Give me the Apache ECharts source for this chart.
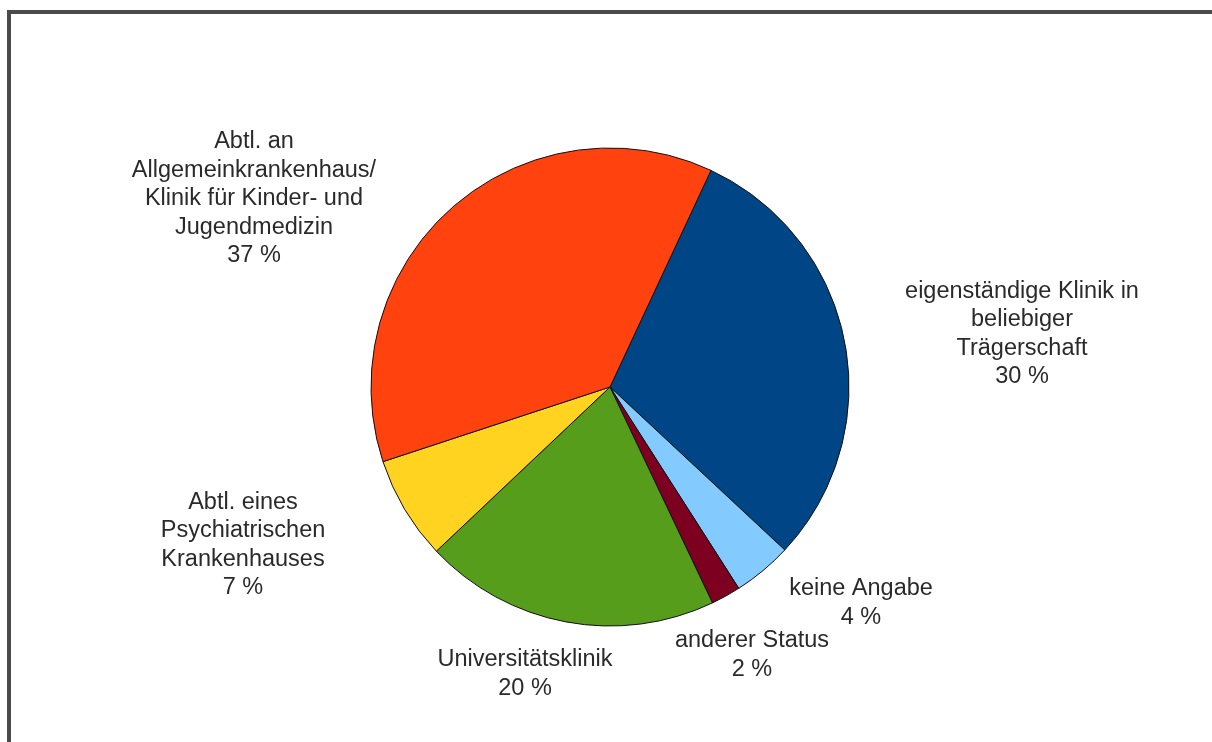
<!DOCTYPE html>
<html>
<head>
<meta charset="utf-8">
<script src="https://cdn.jsdelivr.net/npm/echarts@6/dist/echarts.min.js"></script>
<style>
  html, body { margin: 0; padding: 0; background: #ffffff; }
  #chart { width: 1212px; height: 742px; }
</style>
</head>
<body>
<div id="chart"></div>
<script>
// Träger der Einrichtungen (Anteile in Prozent)
const categories = [
  'eigenständige Klinik in\nbeliebiger\nTrägerschaft',
  'keine Angabe',
  'anderer Status',
  'Universitätsklinik',
  'Abtl. eines\nPsychiatrischen\nKrankenhauses',
  'Abtl. an\nAllgemeinkrankenhaus/\nKlinik für Kinder- und\nJugendmedizin'
];
const shares = [30, 4, 2, 20, 7, 37];
const sliceColors = ['#004586', '#83caff', '#7e0021', '#579d1c', '#ffd320', '#ff420e'];

// Label block centres, relative to the pie centre
const pieCenter = [610, 387];
const labelOffsets = [
  [412, -53],
  [251, 216],
  [142, 268],
  [-85, 287],
  [-367, 158],
  [-356, -188]
];

const chart = echarts.init(document.getElementById('chart'), null, { renderer: 'canvas' });

chart.setOption({
  backgroundColor: '#ffffff',
  animation: false,
  graphic: [{
    type: 'rect',
    shape: { x: 9, y: 12, width: 1400, height: 900 },
    style: { fill: 'none', stroke: '#4a4a4a', lineWidth: 4 },
    silent: true,
    z: 0
  }],
  series: [{
    type: 'pie',
    center: pieCenter,
    radius: 239,
    startAngle: 65,
    clockwise: true,
    avoidLabelOverlap: false,
    data: categories.map((name, i) => ({
      name: name,
      value: shares[i],
      itemStyle: { color: sliceColors[i] }
    })),
    itemStyle: { borderColor: '#111111', borderWidth: 1 },
    emphasis: { disabled: true },
    label: {
      show: true,
      position: 'outside',
      formatter: p => p.name + '\n' + p.value + ' %',
      fontFamily: '"Liberation Sans", Arial, sans-serif',
      fontSize: 23.5,
      lineHeight: 28.5,
      color: '#2a2a2a',
      align: 'center'
    },
    labelLine: { show: false },
    labelLayout: function (params) {
      const off = labelOffsets[params.dataIndex];
      return {
        x: pieCenter[0] + off[0],
        y: pieCenter[1] + off[1],
        align: 'center',
        verticalAlign: 'middle'
      };
    }
  }]
});
</script>
</body>
</html>
